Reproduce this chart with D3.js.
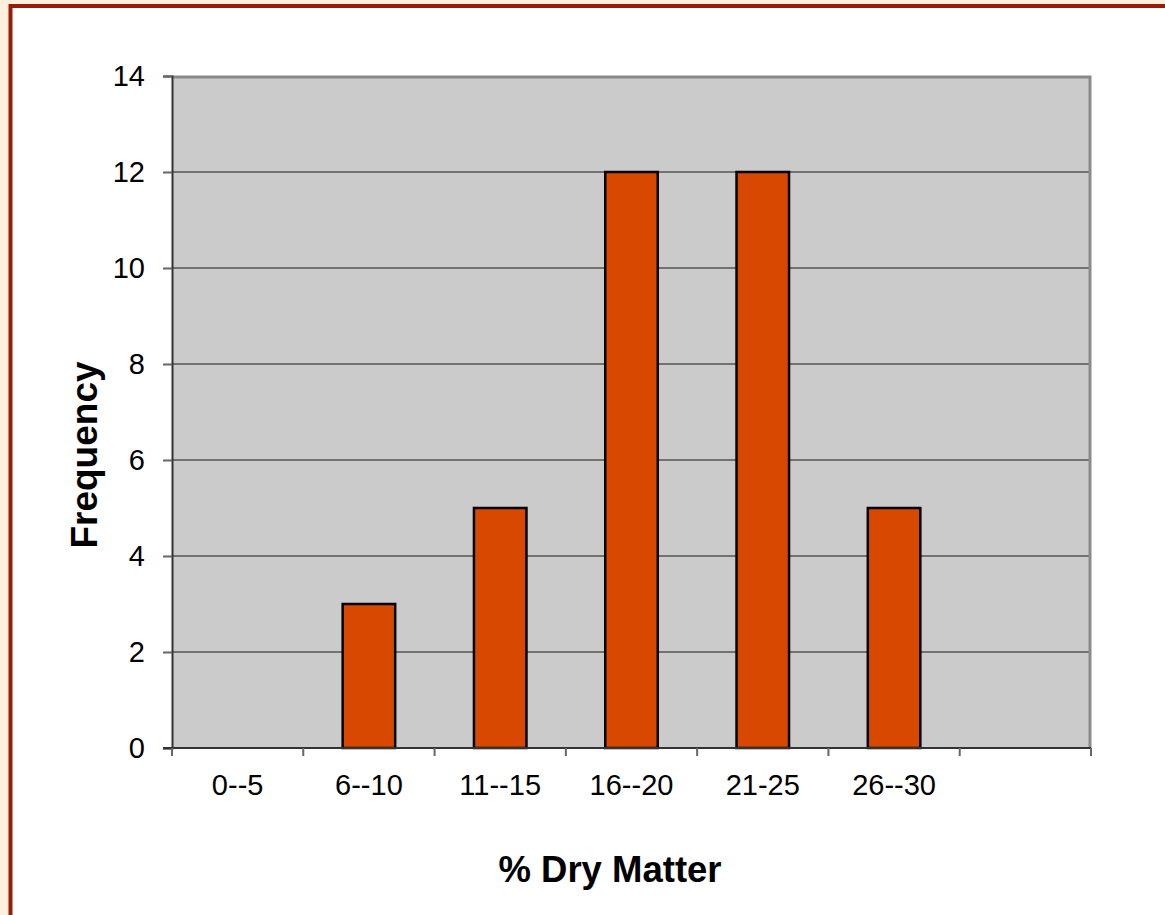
<!DOCTYPE html>
<html>
<head>
<meta charset="utf-8">
<script src="https://cdn.jsdelivr.net/npm/d3@7"></script>
<style>
  body { margin: 0; background: #fcf0dc; }
  text { font-family: Arial, "Liberation Sans", sans-serif; }
</style>
</head>
<body>
<script>
// chart data
var categories = ["0--5", "6--10", "11--15", "16--20", "21-25", "26--30", ""];
var frequency = [0, 3, 5, 12, 12, 5, null];
var yTicks = [0, 2, 4, 6, 8, 10, 12, 14];

var width = 1165, height = 915;
var plot = { left: 172, right: 1091, top: 76, bottom: 748 };

var svg = d3.select("body")
  .append("svg")
    .attr("width", width)
    .attr("height", height);

// page frame
svg.append("rect")
  .attr("x", 10.5).attr("y", 6)
  .attr("width", width + 20).attr("height", height + 20)
  .attr("fill", "white")
  .attr("stroke", "#9a1a08")
  .attr("stroke-width", 4);

var x = d3.scaleBand()
  .domain(categories)
  .range([plot.left, plot.right])
  .paddingInner(0.6)
  .paddingOuter(0.3);

var y = d3.scaleLinear()
  .domain([0, 14])
  .range([plot.bottom, plot.top]);

// plot background
svg.append("rect")
  .attr("x", plot.left).attr("y", plot.top)
  .attr("width", plot.right - plot.left)
  .attr("height", plot.bottom - plot.top)
  .attr("fill", "#cbcbcb");

// gridlines
svg.append("g").selectAll("line")
  .data(yTicks.filter(function(d) { return d > 0 && d < 14; }))
  .enter()
  .append("line")
    .attr("x1", plot.left).attr("x2", plot.right)
    .attr("y1", function(d) { return y(d); })
    .attr("y2", function(d) { return y(d); })
    .attr("stroke", "#555")
    .attr("stroke-width", 1.5);

// top and right border
svg.append("path")
  .attr("d", "M" + plot.left + "," + (plot.top + 1) + "H" + (plot.right - 1) + "V" + plot.bottom)
  .attr("fill", "none")
  .attr("stroke", "#8a8a8a")
  .attr("stroke-width", 3);

// bars
svg.append("g").selectAll("rect")
  .data(categories.map(function(c, i) { return { cat: c, val: frequency[i] }; })
    .filter(function(d) { return d.val > 0; }))
  .enter()
  .append("rect")
    .attr("x", function(d) { return x(d.cat); })
    .attr("y", function(d) { return y(d.val); })
    .attr("width", x.bandwidth())
    .attr("height", function(d) { return y(0) - y(d.val); })
    .attr("fill", "#d84800")
    .attr("stroke", "black")
    .attr("stroke-width", 2.5);

// y axis
var yAxis = svg.append("g")
  .attr("transform", "translate(" + plot.left + ",0)")
  .call(d3.axisLeft(y).tickValues(yTicks).tickSize(9).tickPadding(18));
yAxis.select(".domain").attr("stroke", "#333").attr("stroke-width", 2);
yAxis.selectAll(".tick line").attr("stroke", "#666").attr("stroke-width", 2);
yAxis.selectAll("text")
  .attr("font-size", 29)
  .attr("fill", "black")
  .style("font-family", "Arial, 'Liberation Sans', sans-serif");

// x axis, ticks between categories
var step = x.step();
var bounds = d3.range(categories.length + 1).map(function(i) { return plot.left + i * step; });
var xAxis = svg.append("g");
xAxis.append("line")
  .attr("x1", plot.left - 9).attr("x2", plot.right)
  .attr("y1", plot.bottom).attr("y2", plot.bottom)
  .attr("stroke", "#333").attr("stroke-width", 2);
xAxis.selectAll(".xt")
  .data(bounds)
  .enter()
  .append("line")
    .attr("x1", function(d) { return d; }).attr("x2", function(d) { return d; })
    .attr("y1", plot.bottom).attr("y2", plot.bottom + 8)
    .attr("stroke", "#666").attr("stroke-width", 2);
xAxis.selectAll("text")
  .data(categories)
  .enter()
  .append("text")
    .attr("x", function(d) { return x(d) + x.bandwidth() / 2; })
    .attr("y", 795)
    .attr("text-anchor", "middle")
    .attr("font-size", 29)
    .text(function(d) { return d; });

// axis titles
svg.append("text")
  .attr("x", 610).attr("y", 882)
  .attr("text-anchor", "middle")
  .attr("font-size", 36.5)
  .attr("font-weight", "bold")
  .text("% Dry Matter");

svg.append("text")
  .attr("transform", "translate(97,455) rotate(-90)")
  .attr("text-anchor", "middle")
  .attr("font-size", 37)
  .attr("font-weight", "bold")
  .text("Frequency");
</script>
</body>
</html>
